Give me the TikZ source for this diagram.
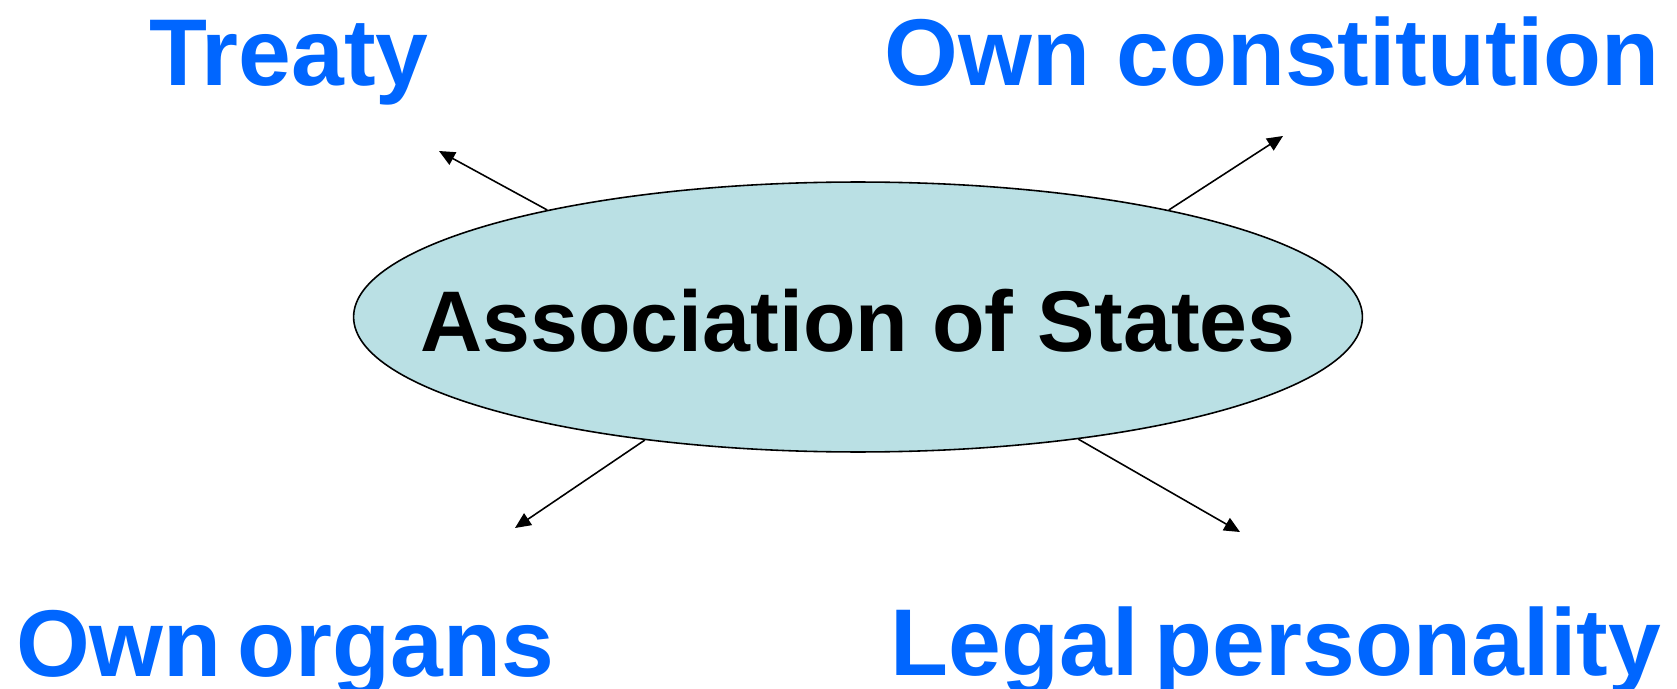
\documentclass[tikz,border=0pt]{standalone}
\usepackage{fontspec}
\setmainfont{Liberation Sans}
\usetikzlibrary{arrows.meta,shapes.geometric}
\definecolor{topicblue}{RGB}{0,102,255}
\definecolor{assocfill}{RGB}{186,224,228}

\begin{document}
\begin{tikzpicture}[x=0.02cm, y=-0.02cm, line width=0.9pt, arrows={-Triangle[length=9pt,width=8pt]},
	topic/.style={anchor=base, inner sep=0pt, text=topicblue, font=\bfseries\fontsize{54}{60}\selectfont},
	tight/.style={execute at begin node={\spaceskip=0.17em}}]
	\useasboundingbox (0,0) rectangle (1677,689);

	\node (A) [draw, ellipse, fill=assocfill, inner sep=0pt, minimum width=20.18cm, minimum height=5.4cm] at (858,317) {};
	\node (AT) [anchor=base, inner sep=0pt, font=\bfseries\fontsize{49}{55}\selectfont] at (858,351) {Association of States};

	\node (T) [topic] at (289,86) {Treaty};
	\node (C) [topic] at (1272,86) {Own constitution};
	\node (O) [topic, tight] at (285,676) {Own organs};
	\node (L) [topic, tight] at (1276,675) {Legal personality};

	\coordinate (Tend) at (439,151);
	\coordinate (Cend) at (1283,136);
	\coordinate (Oend) at (515,528);
	\coordinate (Lend) at (1240,532);

	\draw (A.161) to (Tend);
	\draw (A.19) to (Cend);
	\draw (A.210) to (Oend);
	\draw (A.331) to (Lend);
\end{tikzpicture}
\end{document}
